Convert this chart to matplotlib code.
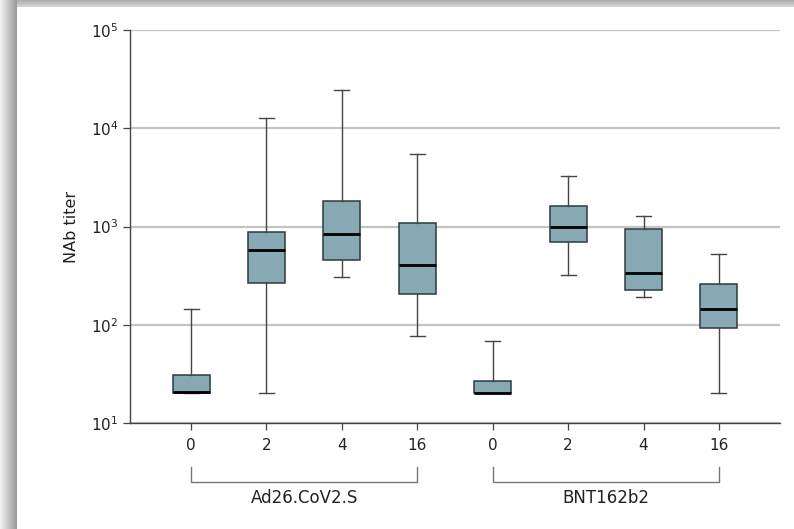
import numpy as np
import matplotlib
matplotlib.use("Agg")
import matplotlib.pyplot as plt
from matplotlib.ticker import LogLocator, NullLocator

# ---- data ----
tick_labels = ["0", "2", "4", "16", "0", "2", "4", "16"]
groups = ["Ad26.CoV2.S", "BNT162b2"]
group_span = [(1, 4), (5, 8)]
whislo = [20, 20, 308, 77, 20, 318, 191, 20]
q1 = [20, 267, 458, 204, 20, 689, 224, 92.5]
med = [20.5, 579, 843, 402, 20.2, 993, 338, 145]
q3 = [31, 871, 1800, 1091, 26.5, 1600, 948, 261]
whishi = [146, 12600, 24400, 5490, 68, 3240, 1268, 527]

W, H = 794, 529
fig = plt.figure(figsize=(W / 100, H / 100), dpi=100)
fig.patch.set_facecolor("white")

# decorative frame (left and top shaded bands)
band_l = fig.add_axes([0, 0, 17 / W, 1], zorder=-5)
grad = np.linspace(0.96, 0.60, 64)[None, :]
band_l.imshow(grad, cmap="gray", vmin=0, vmax=1, aspect="auto",
              extent=[0, 1, 0, 1])
band_l.axis("off")
band_t = fig.add_axes([17 / W, 1 - 7 / H, 1 - 17 / W, 7 / H], zorder=-5)
gradt = np.linspace(0.68, 0.84, 16)[:, None]
band_t.imshow(gradt, cmap="gray", vmin=0, vmax=1, aspect="auto",
              extent=[0, 1, 0, 1])
band_t.axis("off")

ax = fig.add_axes([130 / W, (H - 423) / H, 650 / W, 393 / H])

stats = []
for i in range(len(tick_labels)):
    stats.append(dict(whislo=whislo[i], q1=q1[i], med=med[i], q3=q3[i],
                      whishi=whishi[i], fliers=[], label=tick_labels[i]))
positions = np.arange(1, len(tick_labels) + 1)
ax.bxp(stats, positions=positions, widths=0.49, patch_artist=True,
       showfliers=False, capwidths=0.2,
       boxprops=dict(facecolor="#87a9b4", edgecolor="#2e3a3f", linewidth=1.1),
       medianprops=dict(color="black", linewidth=2.0),
       whiskerprops=dict(color="#444444", linewidth=1.0),
       capprops=dict(color="#444444", linewidth=1.0), zorder=3)

ax.set_yscale("log")
ax.set_ylim(10, 1e5)
ax.set_xlim(0.19, 8.81)
ax.yaxis.set_major_locator(LogLocator(base=10, numticks=10))
ax.yaxis.set_minor_locator(NullLocator())
ax.set_xticks(positions)
ax.set_xticklabels(tick_labels)
ax.grid(axis="y", which="major", color="#c4c4c4", linewidth=1.6, zorder=0)
ax.set_axisbelow(True)
for s in ["top", "right"]:
    ax.spines[s].set_visible(False)
for s in ["left", "bottom"]:
    ax.spines[s].set_color("#444444")
    ax.spines[s].set_linewidth(1.0)
ax.tick_params(axis="both", colors="#444444", labelcolor="#222222",
               labelsize=11, length=5, width=0.9)
ax.tick_params(axis="x", pad=6)
ax.set_ylabel("NAb titer", fontsize=11.5, color="#222222", labelpad=8)

# group brackets
trans = ax.get_xaxis_transform()
for (a, b), name in zip(group_span, groups):
    ax.plot([a, a, b, b], [-0.112, -0.150, -0.150, -0.112], color="#777777",
            linewidth=1.0, transform=trans, clip_on=False)
    ax.text((a + b) / 2, -0.19, name, transform=trans, ha="center",
            va="center", fontsize=12, color="#222222")

fig.savefig("out.png", dpi=100)
